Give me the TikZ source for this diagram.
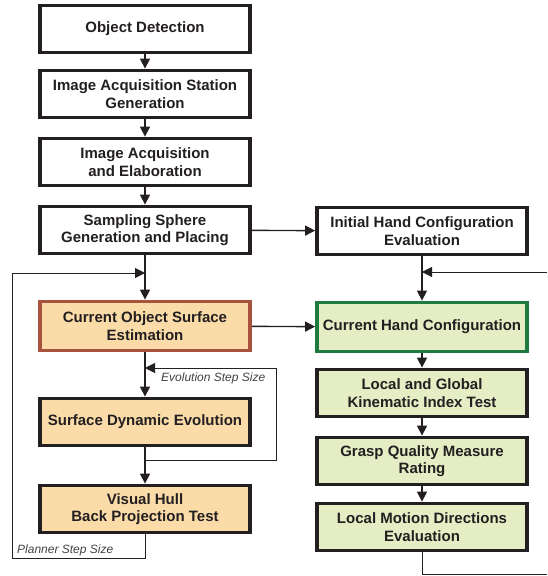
\documentclass[tikz,border=0pt]{standalone}
\usepackage{fontspec}
\setmainfont{Liberation Sans}
\usetikzlibrary{arrows.meta}
\definecolor{peach}{HTML}{FBDCA9}
\definecolor{lgreen}{HTML}{E5EDC4}
\definecolor{brownred}{HTML}{A8533E}
\definecolor{dgreen}{HTML}{1F7A3F}
\definecolor{ink}{HTML}{231F20}
\begin{document}
\begin{tikzpicture}[x=1pt,y=-1pt,
  box/.style={draw=ink,line width=3.8pt,minimum width=210pt,minimum height=47pt,
    align=center,font=\fontsize{15}{17.5}\selectfont\bfseries,text=ink,inner sep=1pt},
  wbox/.style={box,fill=white},
  obox/.style={box,fill=peach},
  gbox/.style={box,fill=lgreen},
  tip/.style={-{Triangle[length=10pt,width=10pt]}},
  arr/.style={line width=1.4pt,draw=ink,tip},
  fb/.style={line width=1pt,draw=ink},
  lbl/.style={font=\fontsize{12}{14}\selectfont\itshape,text=ink!85,inner sep=1pt}]
\useasboundingbox (0,0) rectangle (547,576);
% left column
\node[wbox] (od)  at (145,29)  {Object Detection};
\node[wbox] (ias) at (145,94)  {Image Acquisition Station\\Generation};
\node[wbox] (iae) at (145,162) {Image Acquisition\\and Elaboration};
\node[wbox] (ss)  at (145,230) {Sampling Sphere\\Generation and Placing};
\node[obox,draw=brownred,minimum height=49pt] (cose) at (145,326) {Current Object Surface\\Estimation};
\node[obox] (sde) at (145,422) {Surface Dynamic Evolution};
\node[obox] (vh)  at (145,509) {Visual Hull\\Back Projection Test};
% right column
\node[wbox] (ihc) at (422,231) {Initial Hand Configuration\\Evaluation};
\node[gbox,draw=dgreen,minimum height=49pt] (chc) at (422,327) {Current Hand Configuration};
\node[gbox] (lgk) at (422,393) {Local and Global\\Kinematic Index Test};
\node[gbox] (gq)  at (422,461) {Grasp Quality Measure\\Rating};
\node[gbox] (lmd) at (422,527) {Local Motion Directions\\Evaluation};
% main arrows
\draw[arr] (od) -- (ias);
\draw[arr] (ias) -- (iae);
\draw[arr] (iae) -- (ss);
\draw[arr] (ss) -- (cose);
\draw[arr] (cose) -- (sde);
\draw[arr] (sde) -- (vh);
\draw[arr] (ss) -- (ihc);
\draw[arr] (cose) -- (chc);
\draw[arr] (ihc) -- (chc);
\draw[arr] (chc) -- (lgk);
\draw[arr] (lgk) -- (gq);
\draw[arr] (gq) -- (lmd);
% evolution loop
\coordinate (e0) at (145,460);
\coordinate (e1) at (276,368);
\coordinate (e2) at (145,368);
\draw[fb] (e0) -| (e1);
\draw[fb,tip] (e1) -- (e2);
\node[lbl,anchor=west] (evl) at (160,378) {Evolution Step Size};
% planner loop
\coordinate (p0) at (145,558);
\coordinate (p1) at (12,273);
\coordinate (p2) at (145,273);
\draw[fb] (vh.south) -- (p0) -| (p1);
\draw[fb,tip] (p1) -- (p2);
\node[lbl,anchor=west] (pll) at (16,550) {Planner Step Size};
% right loop
\coordinate (r0) at (422,574);
\coordinate (r1) at (547,574);
\coordinate (r2) at (547,272);
\coordinate (r3) at (422,272);
\draw[fb] (lmd.south) -- (r0) -- (r1);
\draw[fb,tip] (r2) -- (r3);
\end{tikzpicture}
\end{document}
